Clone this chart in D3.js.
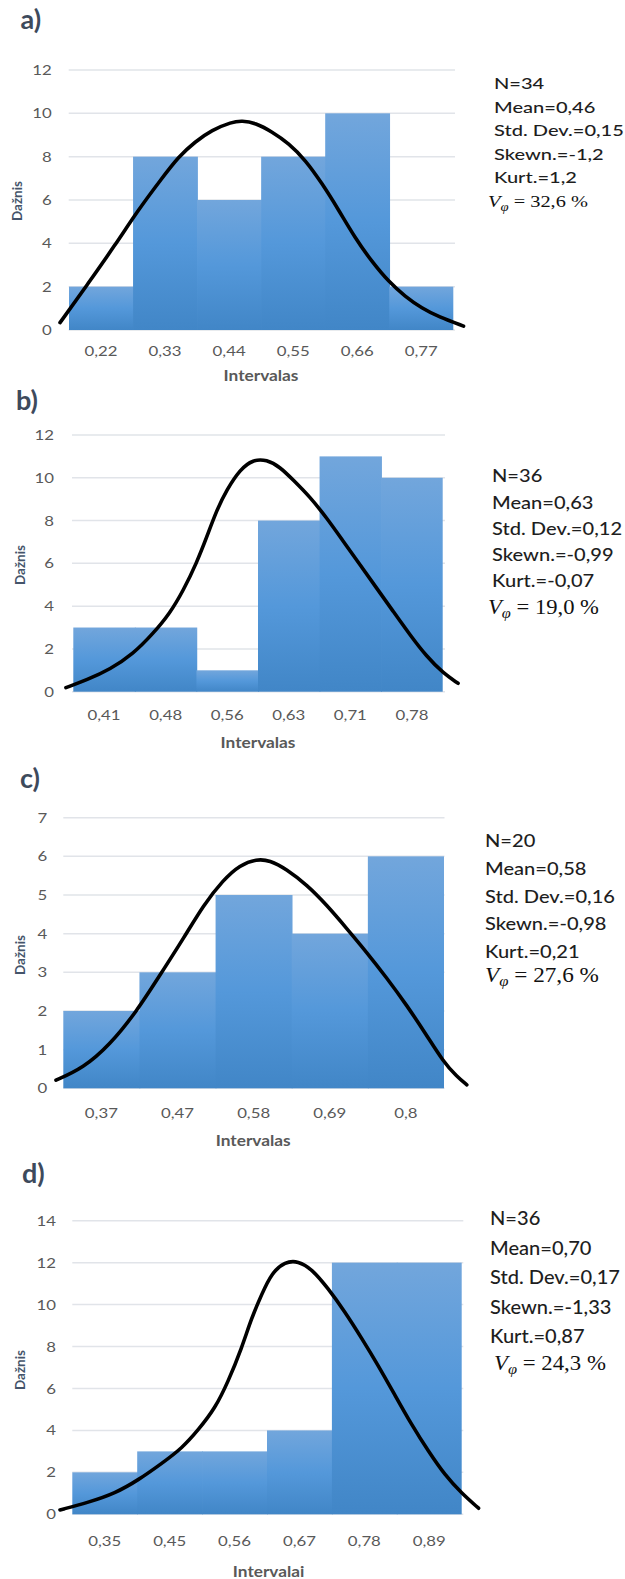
<!DOCTYPE html>
<html><head><meta charset="utf-8">
<script src="https://cdn.jsdelivr.net/npm/d3@7/dist/d3.min.js"></script>
<style>body{margin:0;background:#fff}svg{display:block}</style>
</head><body>
<script>
// ---------- data ----------
const panelLetters = ["a)", "b)", "c)", "d)"];
const axisTitlesX = ["Intervalas", "Intervalas", "Intervalas", "Intervalai"];
const axisTitleY = "Dažnis";

const catsA = ["0,22","0,33","0,44","0,55","0,66","0,77"];
const valsA = [2, 8, 6, 8, 10, 2];
const catsB = ["0,41","0,48","0,56","0,63","0,71","0,78"];
const valsB = [3, 3, 1, 8, 11, 10];
const catsC = ["0,37","0,47","0,58","0,69","0,8"];
const valsC = [2, 3, 5, 4, 6];
const catsD = ["0,35","0,45","0,56","0,67","0,78","0,89"];
const valsD = [2, 3, 3, 4, 12, 12];

const yTicksA = [0,2,4,6,8,10,12];
const yTicksB = [0,2,4,6,8,10,12];
const yTicksC = [0,1,2,3,4,5,6,7];
const yTicksD = [0,2,4,6,8,10,12,14];

// fitted normal curve, [position in bin units, frequency]
const curveA = [[-0.14,0.34],[0.30,2.15],[0.72,3.92],[1.08,5.54],[1.45,7.0],[1.71,8.0],[1.97,8.69],[2.23,9.23],[2.54,9.6],[2.70,9.66],[2.91,9.56],[3.17,9.15],[3.43,8.62],[3.69,7.85],[3.95,6.77],[4.21,5.54],[4.47,4.23],[4.73,3.15],[4.99,2.23],[5.25,1.54],[5.51,1.0],[5.77,0.61],[6.16,0.18]];
const curveB = [[-0.12,0.19],[0.22,0.55],[0.60,1.05],[0.97,1.76],[1.30,2.73],[1.57,3.67],[1.79,4.75],[2.00,6.0],[2.17,7.25],[2.33,8.49],[2.49,9.43],[2.71,10.4],[2.92,10.85],[3.14,10.85],[3.36,10.5],[3.57,9.90],[3.84,9.12],[4.12,8.11],[4.39,7.01],[4.66,5.92],[4.93,4.83],[5.20,3.74],[5.47,2.65],[5.74,1.64],[6.01,0.86],[6.25,0.39]];
const curveC = [[-0.096,0.21],[0.26,0.52],[0.61,1.12],[0.96,1.98],[1.27,2.93],[1.58,3.88],[1.84,4.74],[2.10,5.39],[2.32,5.78],[2.54,5.93],[2.71,5.9],[2.93,5.67],[3.20,5.26],[3.46,4.74],[3.72,4.14],[3.98,3.53],[4.25,2.85],[4.51,2.15],[4.77,1.38],[4.99,0.69],[5.17,0.30],[5.30,0.09]];
const curveD = [[-0.19,0.21],[0.25,0.57],[0.66,1.0],[1.02,1.64],[1.38,2.43],[1.69,3.15],[1.94,4.02],[2.20,5.05],[2.40,6.32],[2.61,7.92],[2.76,9.35],[2.92,10.5],[3.07,11.5],[3.28,12.05],[3.48,12.08],[3.69,11.7],[3.94,10.78],[4.20,9.66],[4.46,8.39],[4.71,7.12],[4.97,5.69],[5.23,4.26],[5.49,2.99],[5.74,1.87],[6.00,1.0],[6.26,0.29]];

const statsA = ["N=34","Mean=0,46","Std. Dev.=0,15","Skewn.=-1,2","Kurt.=1,2"];
const statsB = ["N=36","Mean=0,63","Std. Dev.=0,12","Skewn.=-0,99","Kurt.=-0,07"];
const statsC = ["N=20","Mean=0,58","Std. Dev.=0,16","Skewn.=-0,98","Kurt.=0,21"];
const statsD = ["N=36","Mean=0,70","Std. Dev.=0,17","Skewn.=-1,33","Kurt.=0,87"];
const vPhi = ["32,6 %","19,0 %","27,6 %","24,3 %"];

// ---------- layout ----------
const layouts = [
  {cats:catsA, vals:valsA, ticks:yTicksA, curve:curveA, stats:statsA, ymax:12,
   x0:69, x1:453.3, gx0:68.7, gx1:455, y0:330, y1:70, tickR:51.7, xTickY:355.5,
   xTitle:{x:261,y:381,w:75}, yTitle:{x:17.5,y:201}, letter:{x:20.5,y:28.5},
   st:{x:494,ys:[89,112.5,136,159.5,183],fs:15,vx:488,vy:206.7,vfs:17.5,vw:100}},
  {cats:catsB, vals:valsB, ticks:yTicksB, curve:curveB, stats:statsB, ymax:12,
   x0:73.3, x1:442.7, gx0:72, gx1:445, y0:691.7, y1:435, tickR:54, xTickY:719.5,
   xTitle:{x:258,y:747.5,w:75}, yTitle:{x:20,y:565}, letter:{x:16,y:410},
   st:{x:492,ys:[482.3,508.5,534.8,561,587.3],fs:16.7,vx:488,vy:614,vfs:20,vw:111}},
  {cats:catsC, vals:valsC, ticks:yTicksC, curve:curveC, stats:statsC, ymax:7,
   x0:63.3, x1:444, gx0:63.3, gx1:444.5, y0:1088.3, y1:817.7, tickR:47.3, xTickY:1118,
   xTitle:{x:253.2,y:1146,w:75}, yTitle:{x:20,y:955}, letter:{x:20,y:788},
   st:{x:485,ys:[847.3,874.9,902.5,930.1,957.7],fs:17,vx:485,vy:982,vfs:20,vw:114}},
  {cats:catsD, vals:valsD, ticks:yTicksD, curve:curveD, stats:statsD, ymax:14,
   x0:72.3, x1:461.7, gx0:72.3, gx1:463.3, y0:1514.3, y1:1220.7, tickR:56, xTickY:1546,
   xTitle:{x:268.6,y:1577,w:71.5}, yTitle:{x:20,y:1370}, letter:{x:22,y:1183},
   st:{x:490,ys:[1225,1254.6,1284.2,1313.8,1343.4],fs:18.5,vx:494,vy:1370,vfs:20,vw:112}}
];

const W = 625, H = 1579;
const svg = d3.select("body").append("svg").attr("width", W).attr("height", H);

const defs = svg.append("defs");
const grad = defs.append("linearGradient").attr("id","barGrad")
  .attr("x1",0).attr("y1",0).attr("x2",0).attr("y2",1);
grad.append("stop").attr("offset","0%").attr("stop-color","#72a6dc");
grad.append("stop").attr("offset","50%").attr("stop-color","#5498da");
grad.append("stop").attr("offset","100%").attr("stop-color","#4186c7");

const sans = "Lato, 'Open Sans', sans-serif";
const TICK_SX = 1.2;

// place a text at (x,y) and stretch it horizontally so that its width equals w
function fitWidth(t, x, y, w) {
  const len = t.node().getComputedTextLength();
  const sx = w / len;
  t.attr("transform", `translate(${x},${y}) scale(${sx},1)`);
  return sx;
}

layouts.forEach((L, i) => {
  const g = svg.append("g");
  const y = d3.scaleLinear().domain([0, L.ymax]).range([L.y0, L.y1]);
  const xb = d3.scaleBand().domain(L.cats).range([L.x0, L.x1]).padding(0);
  const xc = d3.scaleLinear().domain([0, L.cats.length]).range([L.x0, L.x1]);

  // gridlines
  g.append("g").selectAll("line").data(L.ticks).join("line")
    .attr("x1", L.gx0).attr("x2", L.gx1)
    .attr("y1", d => y(d)).attr("y2", d => y(d))
    .attr("stroke", "#e1e4e9").attr("stroke-width", 1.5);

  // y tick labels
  g.append("g").selectAll("text").data(L.ticks).join("text")
    .attr("transform", d => `translate(${L.tickR},${y(d)}) scale(${TICK_SX},1)`)
    .attr("dy", "0.36em")
    .attr("text-anchor", "end").attr("font-family", sans).attr("font-size", 14)
    .attr("fill", "#595959").text(d => d);

  // bars
  g.append("g").selectAll("rect").data(L.vals).join("rect")
    .attr("x", (d, j) => xb(L.cats[j]))
    .attr("width", (d, j) => xb.bandwidth() + (j < L.vals.length - 1 ? 0.8 : 0))
    .attr("y", d => y(d)).attr("height", d => y(0) - y(d))
    .attr("fill", "url(#barGrad)");

  // x tick labels
  g.append("g").selectAll("text").data(L.cats).join("text")
    .attr("transform", d => `translate(${xb(d) + xb.bandwidth() / 2},${L.xTickY}) scale(${TICK_SX},1)`)
    .attr("text-anchor", "middle").attr("font-family", sans).attr("font-size", 14)
    .attr("fill", "#595959").text(d => d);

  // curve
  const line = d3.line().x(d => xc(d[0])).y(d => y(d[1])).curve(d3.curveBasis);
  g.append("path").datum(L.curve).attr("d", line)
    .attr("fill", "none").attr("stroke", "#000").attr("stroke-width", 3.6)
    .attr("stroke-linecap", "round").attr("stroke-linejoin", "round");

  // axis titles
  const xt = g.append("text").attr("text-anchor", "middle").attr("font-family", sans)
    .attr("font-weight", "bold").attr("font-size", 14.5).attr("fill", "#595959").text(axisTitlesX[i]);
  fitWidth(xt, L.xTitle.x, L.xTitle.y, L.xTitle.w);
  g.append("text").attr("transform", `translate(${L.yTitle.x + 4.5},${L.yTitle.y}) rotate(-90)`)
    .attr("text-anchor", "middle").attr("font-family", sans).attr("font-weight", "bold")
    .attr("font-size", 13).attr("fill", "#44546a")
    .attr("textLength", 40).attr("lengthAdjust", "spacingAndGlyphs").text(axisTitleY);

  // panel letter
  g.append("text").attr("x", L.letter.x).attr("y", L.letter.y)
    .attr("font-family", sans).attr("font-weight", "bold").attr("font-size", 27)
    .attr("fill", "#3d4a5c").text(panelLetters[i]);

  // stats block
  const probe = g.append("text").attr("font-family", sans).attr("font-weight", 500)
    .attr("font-size", L.st.fs).text(L.stats[2]);
  const sx = 130 / probe.node().getComputedTextLength();
  probe.remove();
  L.stats.forEach((s, j) => {
    g.append("text").attr("transform", `translate(${L.st.x},${L.st.ys[j]}) scale(${sx},1)`)
      .attr("font-family", sans).attr("font-weight", 500).attr("font-size", L.st.fs)
      .attr("fill", "#1e1e1e").text(s);
  });
  const vt = g.append("text")
    .attr("font-family", "'Liberation Serif', 'DejaVu Serif', serif").attr("font-size", L.st.vfs).attr("fill", "#111");
  vt.append("tspan").attr("font-style", "italic").text("V");
  vt.append("tspan").attr("font-style", "italic").attr("font-size", L.st.vfs * 0.72).attr("dy", 4).text("φ");
  vt.append("tspan").attr("dy", -4).text(" = " + vPhi[i]);
  fitWidth(vt, L.st.vx, L.st.vy, L.st.vw);
});
</script>
</body></html>
